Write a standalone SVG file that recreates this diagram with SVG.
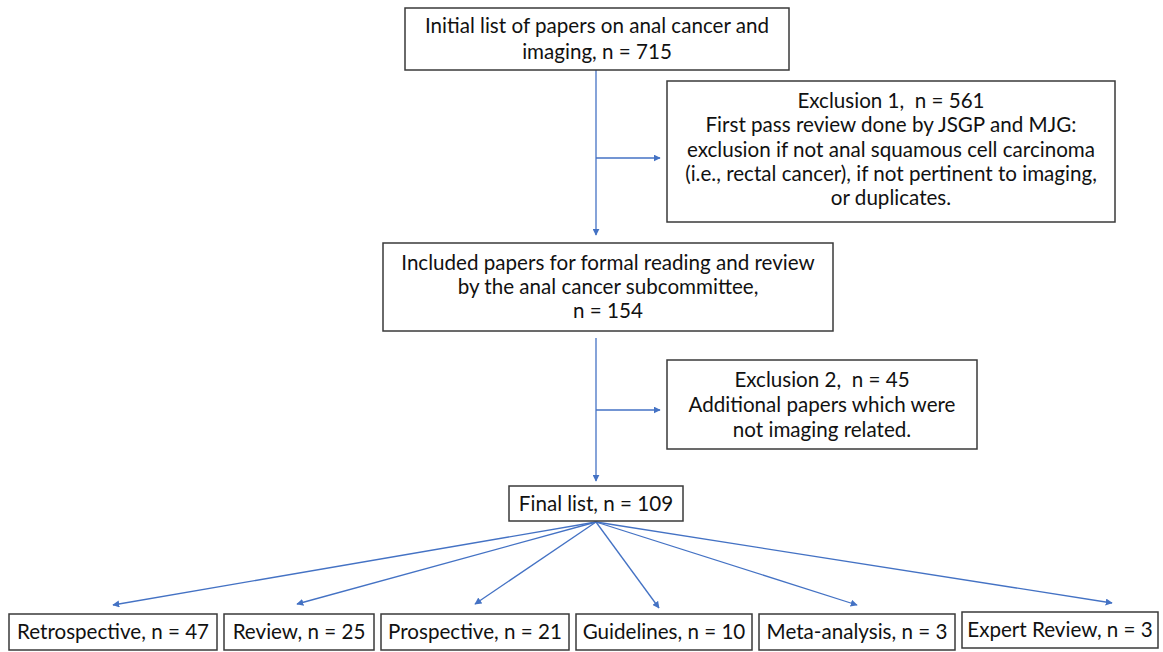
<svg xmlns="http://www.w3.org/2000/svg" width="1163" height="652" viewBox="0 0 1163 652">
<style>
.box{fill:#fff;stroke:#3a3a3a;stroke-width:1.5}
text{font-family:Lato,"Open Sans",sans-serif;font-size:20.6px;fill:#111;text-anchor:middle;white-space:pre}
.c{stroke:#4472C4;stroke-width:1.3;fill:none}
</style>
<defs>
<marker id="ah" viewBox="0 0 10 10" refX="9" refY="5" markerWidth="7" markerHeight="7" markerUnits="userSpaceOnUse" orient="auto">
<path d="M0,0 L10,5 L0,10 z" fill="#4472C4"/>
</marker>
</defs>
<rect width="1163" height="652" fill="#fff"/>
<g id="connectors">
<line class="c" x1="596" y1="70" x2="596" y2="235" marker-end="url(#ah)"/>
<line class="c" x1="596" y1="158" x2="660" y2="158" marker-end="url(#ah)"/>
<line class="c" x1="596" y1="338" x2="596" y2="481" marker-end="url(#ah)"/>
<line class="c" x1="596" y1="410" x2="660" y2="410" marker-end="url(#ah)"/>
<line class="c" x1="596" y1="522" x2="113" y2="605" marker-end="url(#ah)"/>
<line class="c" x1="596" y1="522" x2="297" y2="604" marker-end="url(#ah)"/>
<line class="c" x1="596" y1="522" x2="475" y2="604" marker-end="url(#ah)"/>
<line class="c" x1="596" y1="522" x2="659" y2="608" marker-end="url(#ah)"/>
<line class="c" x1="596" y1="522" x2="857" y2="605" marker-end="url(#ah)"/>
<line class="c" x1="596" y1="522" x2="1112" y2="603" marker-end="url(#ah)"/>
</g>
<g id="initial">
<rect class="box" x="405" y="8" width="384" height="62"/>
<text x="597" y="33">Initial list of papers on anal cancer and</text>
<text x="597" y="59">imaging, n = 715</text>
</g>
<g id="exclusion1">
<rect class="box" x="667" y="81" width="448" height="141"/>
<text x="891" y="108">Exclusion 1,  n = 561</text>
<text x="891" y="132">First pass review done by JSGP and MJG:</text>
<text x="891" y="157">exclusion if not anal squamous cell carcinoma</text>
<text x="891" y="181">(i.e., rectal cancer), if not pertinent to imaging,</text>
<text x="891" y="205">or duplicates.</text>
</g>
<g id="included">
<rect class="box" x="383" y="243" width="450" height="88"/>
<text x="608" y="270">Included papers for formal reading and review</text>
<text x="608" y="294">by the anal cancer subcommittee,</text>
<text x="608" y="318">n = 154</text>
</g>
<g id="exclusion2">
<rect class="box" x="667" y="360" width="310" height="89"/>
<text x="822" y="387">Exclusion 2,  n = 45</text>
<text x="822" y="412">Additional papers which were</text>
<text x="822" y="437">not imaging related.</text>
</g>
<g id="final">
<rect class="box" x="509" y="486" width="174" height="35"/>
<text x="596" y="511">Final list, n = 109</text>
</g>
<g id="retrospective">
<rect class="box" x="9" y="614" width="208" height="36"/>
<text x="113" y="639">Retrospective, n = 47</text>
</g>
<g id="review">
<rect class="box" x="224" y="614" width="150" height="36"/>
<text x="299" y="639">Review, n = 25</text>
</g>
<g id="prospective">
<rect class="box" x="381" y="614" width="188" height="36"/>
<text x="475" y="639">Prospective, n = 21</text>
</g>
<g id="guidelines">
<rect class="box" x="576" y="614" width="176" height="36"/>
<text x="664" y="639">Guidelines, n = 10</text>
</g>
<g id="meta">
<rect class="box" x="759" y="614" width="196" height="36"/>
<text x="857" y="639">Meta-analysis, n = 3</text>
</g>
<g id="expert">
<rect class="box" x="962" y="612" width="196" height="36"/>
<text x="1060" y="637">Expert Review, n = 3</text>
</g>
</svg>
